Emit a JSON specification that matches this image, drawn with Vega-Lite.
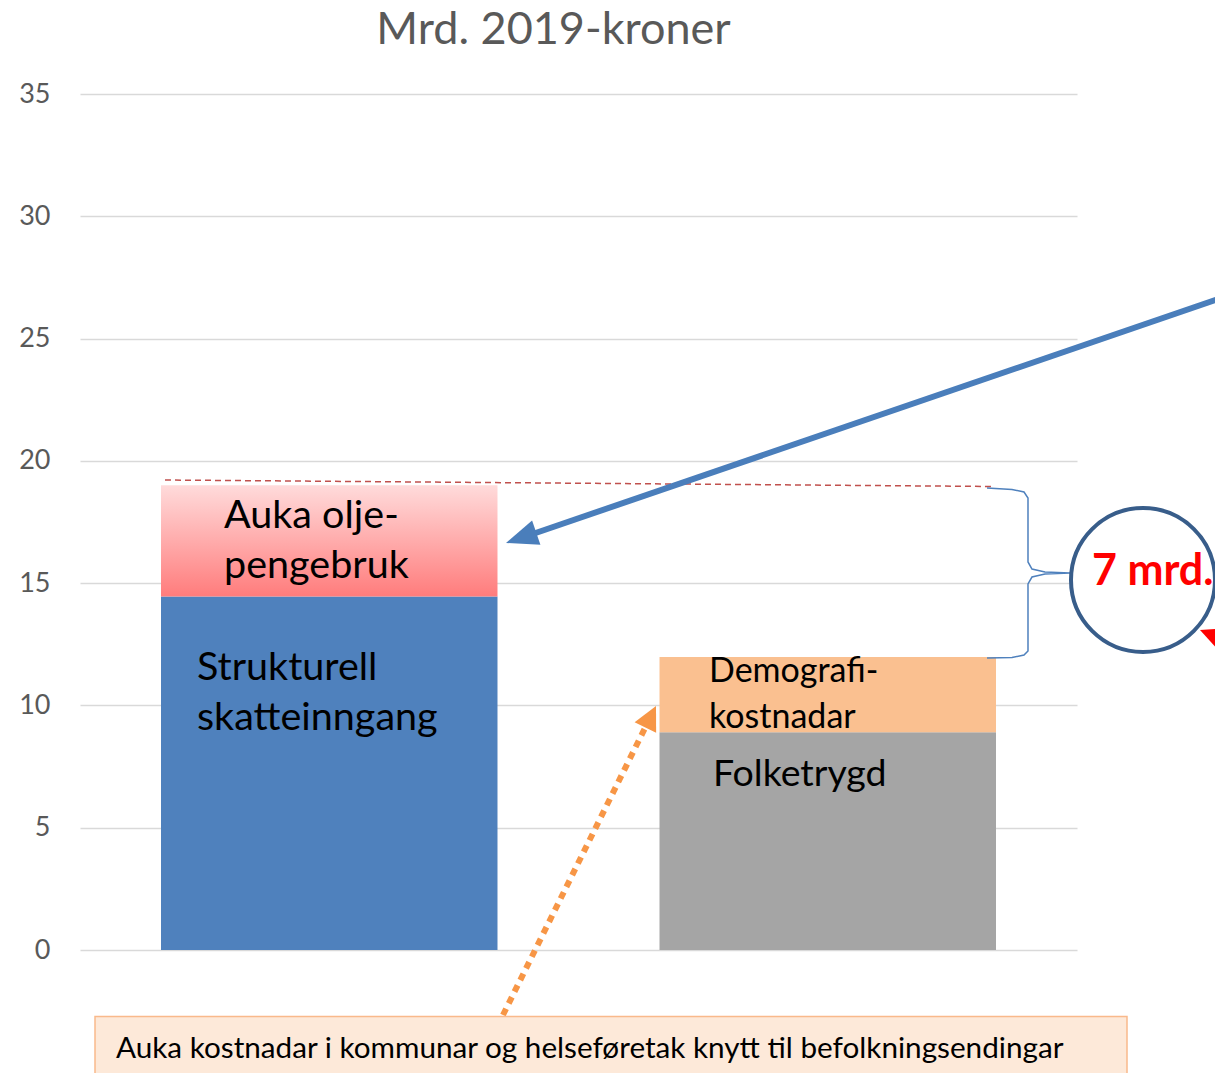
{
  "$schema": "https://vega.github.io/schema/vega-lite/v6.json",
  "width": 997,
  "height": 856,
  "autosize": {"type": "none"},
  "padding": {"left": 80, "top": 94, "right": 138, "bottom": 123},
  "background": "white",
  "config": {"view": {"stroke": null}, "font": "Lato",
    "axisY": {"tickCount": 7, "grid": true, "gridColor": "#D9D9D9", "gridWidth": 1.5, "domain": false, "ticks": false, "labelPadding": 30, "labelFontSize": 27, "labelFont": "Lato", "labelColor": "#595959", "title": null}},
  "title": {"text": "Mrd. 2019-kroner", "fontSize": 45, "font": "Lato", "fontWeight": "normal", "color": "#595959", "anchor": "middle", "frame": "group", "baseline": "alphabetic", "offset": 8, "dx": -25, "dy": 17},
  "datasets": {
    "bars": [
      {"group": "Inntekter", "segment": "Strukturell skatteinngang", "value": 14.45, "level": 1},
      {"group": "Inntekter", "segment": "Auka oljepengebruk", "value": 4.55, "level": 2},
      {"group": "Utgifter", "segment": "Folketrygd", "value": 8.9, "level": 1},
      {"group": "Utgifter", "segment": "Demografikostnadar", "value": 3.08, "level": 2}
    ],
    "labels": [
      {"text": "Auka olje-", "x": 0.2889, "y": 17.255, "role": "bar"},
      {"text": "pengebruk", "x": 0.2889, "y": 15.21, "role": "bar"},
      {"text": "Strukturell", "x": 0.2347, "y": 11.04, "role": "bar"},
      {"text": "skatteinngang", "x": 0.2347, "y": 8.995, "role": "bar"},
      {"text": "Demografi-", "x": 1.2618, "y": 10.958, "role": "demo"},
      {"text": "kostnadar", "x": 1.2618, "y": 9.077, "role": "demo"},
      {"text": "Folketrygd", "x": 1.2698, "y": 6.706, "role": "folk"},
      {"text": "7 mrd.", "x": 2.0301, "y": 14.924, "role": "big"},
      {"text": "Auka kostnadar i kommunar og helseføretak knytt til befolkningsendingar", "x": 0.0722, "y": -4.416, "role": "note"}
    ],
    "bluearrow": [
      {"x": 2.3069, "y": 26.782, "i": 1},
      {"x": 0.8847, "y": 16.846, "i": 2}
    ],
    "bluehead": [{"x": 0.8849, "y": 16.854}],
    "reddash": [
      {"x": 0.1705, "y": 19.217, "i": 1},
      {"x": 1.8315, "y": 18.952, "i": 2}
    ],
    "brace": [
      {"x": 1.8195, "y": 18.89, "i": 1},
      {"x": 1.8696, "y": 18.829, "i": 2},
      {"x": 1.8937, "y": 18.727, "i": 3},
      {"x": 1.9017, "y": 18.481, "i": 4},
      {"x": 1.9017, "y": 15.865, "i": 5},
      {"x": 1.9097, "y": 15.578, "i": 6},
      {"x": 1.9358, "y": 15.456, "i": 7},
      {"x": 1.986, "y": 15.415, "i": 8},
      {"x": 1.9358, "y": 15.374, "i": 9},
      {"x": 1.9097, "y": 15.251, "i": 10},
      {"x": 1.9017, "y": 14.965, "i": 11},
      {"x": 1.9017, "y": 12.226, "i": 12},
      {"x": 1.8937, "y": 12.062, "i": 13},
      {"x": 1.8696, "y": 11.96, "i": 14},
      {"x": 1.8195, "y": 11.939, "i": 15}
    ],
    "circle": [{"x": 2.1324, "y": 15.129}],
    "redtri": [{"x": 2.3069, "y": 12.266}],
    "orangearrow": [
      {"x": 0.8485, "y": -2.658, "i": 1},
      {"x": 1.1334, "y": 9.077, "i": 2}
    ],
    "orangehead": [{"x": 1.1448, "y": 9.539}],
    "box": [{"x": 0.0301, "x2": 2.1003, "y": -2.719, "y2": -5.724}]
  },
  "resolve": {"scale": {"x": "independent"}, "axis": {"x": "independent"}},
  "layer": [
    {
      "data": {"name": "bars"},
      "mark": {"type": "bar"},
      "encoding": {
        "x": {"field": "group", "type": "nominal", "scale": {"paddingInner": 0.325, "paddingOuter": 0.1625}, "axis": null},
        "y": {"field": "value", "type": "quantitative", "stack": "zero", "scale": {"domain": [0, 35], "nice": false}, "axis": {"title": null}},
        "order": {"field": "level", "type": "quantitative"},
        "color": {
          "condition": {"test": "datum.segment === 'Auka oljepengebruk'", "value": {"gradient": "linear", "x1": 0, "y1": 0, "x2": 0, "y2": 1, "stops": [{"offset": 0, "color": "#FFDBDB"}, {"offset": 1, "color": "#FF7C7C"}]}},
          "field": "segment", "type": "nominal",
          "scale": {"domain": ["Strukturell skatteinngang", "Auka oljepengebruk", "Folketrygd", "Demografikostnadar"], "range": ["#4F81BD", "#FF9999", "#A5A5A5", "#FAC090"]},
          "legend": null
        }
      }
    },
    {
      "data": {"name": "reddash"},
      "mark": {"type": "line", "color": "#C0504D", "strokeWidth": 1.5, "strokeDash": [6, 4]},
      "encoding": {
        "x": {"field": "x", "type": "quantitative", "scale": {"domain": [0, 2], "nice": false, "zero": false}, "axis": null},
        "y": {"field": "y", "type": "quantitative", "axis": {"title": null}},
        "order": {"field": "i", "type": "quantitative"}
      }
    },
    {
      "data": {"name": "bluearrow"},
      "mark": {"type": "line", "color": "#4A7EBB", "strokeWidth": 6},
      "encoding": {
        "x": {"field": "x", "type": "quantitative", "scale": {"domain": [0, 2], "nice": false, "zero": false}, "axis": null},
        "y": {"field": "y", "type": "quantitative", "axis": {"title": null}},
        "order": {"field": "i", "type": "quantitative"}
      }
    },
    {
      "data": {"name": "bluehead"},
      "mark": {"type": "point", "shape": "M0,-1L0.8,1L-0.8,1Z", "size": 1024, "angle": 251, "filled": true, "color": "#4A7EBB", "opacity": 1},
      "encoding": {
        "x": {"field": "x", "type": "quantitative", "scale": {"domain": [0, 2], "nice": false, "zero": false}, "axis": null},
        "y": {"field": "y", "type": "quantitative", "axis": {"title": null}}
      }
    },
    {
      "data": {"name": "brace"},
      "mark": {"type": "line", "color": "#4F81BD", "strokeWidth": 1.5},
      "encoding": {
        "x": {"field": "x", "type": "quantitative", "scale": {"domain": [0, 2], "nice": false, "zero": false}, "axis": null},
        "y": {"field": "y", "type": "quantitative", "axis": {"title": null}},
        "order": {"field": "i", "type": "quantitative"}
      }
    },
    {
      "data": {"name": "circle"},
      "mark": {"type": "point", "shape": "circle", "size": 20736, "filled": true, "fill": "white", "stroke": "#385D8A", "strokeWidth": 4, "opacity": 1},
      "encoding": {
        "x": {"field": "x", "type": "quantitative", "scale": {"domain": [0, 2], "nice": false, "zero": false}, "axis": null},
        "y": {"field": "y", "type": "quantitative", "axis": {"title": null}}
      }
    },
    {
      "data": {"name": "redtri"},
      "mark": {"type": "point", "shape": "M-1,-0.67L1,-0.8L0.5,1Z", "size": 3600, "filled": true, "color": "#FF0000", "opacity": 1},
      "encoding": {
        "x": {"field": "x", "type": "quantitative", "scale": {"domain": [0, 2], "nice": false, "zero": false}, "axis": null},
        "y": {"field": "y", "type": "quantitative", "axis": {"title": null}}
      }
    },
    {
      "data": {"name": "orangearrow"},
      "mark": {"type": "line", "color": "#F79646", "strokeWidth": 6, "strokeDash": [7, 6]},
      "encoding": {
        "x": {"field": "x", "type": "quantitative", "scale": {"domain": [0, 2], "nice": false, "zero": false}, "axis": null},
        "y": {"field": "y", "type": "quantitative", "axis": {"title": null}},
        "order": {"field": "i", "type": "quantitative"}
      }
    },
    {
      "data": {"name": "orangehead"},
      "mark": {"type": "point", "shape": "M0,-1L1,1L-1,1Z", "size": 576, "angle": 26.3, "filled": true, "color": "#F79646", "opacity": 1},
      "encoding": {
        "x": {"field": "x", "type": "quantitative", "scale": {"domain": [0, 2], "nice": false, "zero": false}, "axis": null},
        "y": {"field": "y", "type": "quantitative", "axis": {"title": null}}
      }
    },
    {
      "data": {"name": "box"},
      "mark": {"type": "rect", "fill": "#FDE9D9", "stroke": "#F9B98B", "strokeWidth": 1.5},
      "encoding": {
        "x": {"field": "x", "type": "quantitative", "scale": {"domain": [0, 2], "nice": false, "zero": false}, "axis": null},
        "x2": {"field": "x2"},
        "y": {"field": "y", "type": "quantitative", "axis": {"title": null}},
        "y2": {"field": "y2"}
      }
    },
    {
      "data": {"name": "labels"},
      "transform": [{"filter": "datum.role === 'bar'"}],
      "mark": {"type": "text", "align": "left", "baseline": "alphabetic", "font": "Lato", "fontSize": 39.5, "color": "#000000"},
      "encoding": {
        "x": {"field": "x", "type": "quantitative", "scale": {"domain": [0, 2], "nice": false, "zero": false}, "axis": null},
        "y": {"field": "y", "type": "quantitative", "axis": {"title": null}},
        "text": {"field": "text"}
      }
    },
    {
      "data": {"name": "labels"},
      "transform": [{"filter": "datum.role === 'demo'"}],
      "mark": {"type": "text", "align": "left", "baseline": "alphabetic", "font": "Lato", "fontSize": 34, "color": "#000000"},
      "encoding": {
        "x": {"field": "x", "type": "quantitative", "scale": {"domain": [0, 2], "nice": false, "zero": false}, "axis": null},
        "y": {"field": "y", "type": "quantitative", "axis": {"title": null}},
        "text": {"field": "text"}
      }
    },
    {
      "data": {"name": "labels"},
      "transform": [{"filter": "datum.role === 'folk'"}],
      "mark": {"type": "text", "align": "left", "baseline": "alphabetic", "font": "Lato", "fontSize": 37.5, "color": "#000000"},
      "encoding": {
        "x": {"field": "x", "type": "quantitative", "scale": {"domain": [0, 2], "nice": false, "zero": false}, "axis": null},
        "y": {"field": "y", "type": "quantitative", "axis": {"title": null}},
        "text": {"field": "text"}
      }
    },
    {
      "data": {"name": "labels"},
      "transform": [{"filter": "datum.role === 'big'"}],
      "mark": {"type": "text", "align": "left", "baseline": "alphabetic", "font": "Lato", "fontSize": 43, "fontWeight": "bold", "color": "#FF0000"},
      "encoding": {
        "x": {"field": "x", "type": "quantitative", "scale": {"domain": [0, 2], "nice": false, "zero": false}, "axis": null},
        "y": {"field": "y", "type": "quantitative", "axis": {"title": null}},
        "text": {"field": "text"}
      }
    },
    {
      "data": {"name": "labels"},
      "transform": [{"filter": "datum.role === 'note'"}],
      "mark": {"type": "text", "align": "left", "baseline": "alphabetic", "font": "Lato", "fontSize": 29.7, "color": "#000000"},
      "encoding": {
        "x": {"field": "x", "type": "quantitative", "scale": {"domain": [0, 2], "nice": false, "zero": false}, "axis": null},
        "y": {"field": "y", "type": "quantitative", "axis": {"title": null}},
        "text": {"field": "text"}
      }
    }
  ]
}
